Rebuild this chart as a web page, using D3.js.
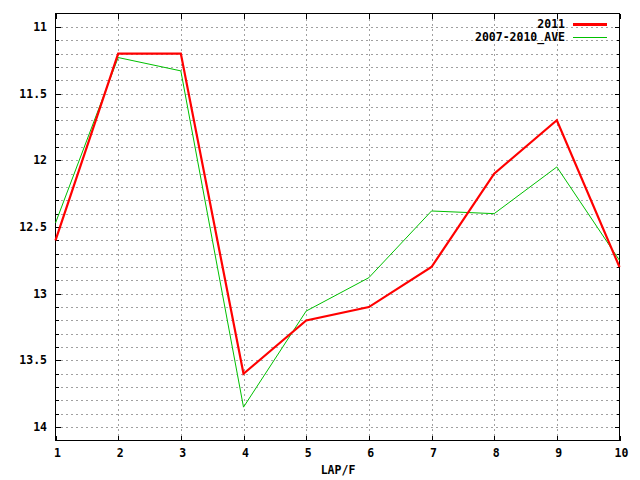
<!DOCTYPE html>
<html><head><meta charset="utf-8">
<script src="https://cdn.jsdelivr.net/npm/d3@7"></script>
<style>
body{margin:0;background:#fff;}
text{font-family:"DejaVu Sans Mono",monospace;font-weight:bold;font-size:11.5px;fill:#000;}
</style></head>
<body>
<svg id="c" width="640" height="480"></svg>
<script>
const laps = [1,2,3,4,5,6,7,8,9,10];
const series2011 = [12.6,11.2,11.2,13.6,13.2,13.1,12.8,12.1,11.7,12.8];
const seriesAve = [12.47,11.23,11.33,13.85,13.13,12.88,12.38,12.40,12.05,12.75];
const yTickLabels = [11,11.5,12,12.5,13,13.5,14];
const seriesNames = ["2011","2007-2010_AVE"];
const xLabel = "LAP/F";

const L=55.5, R=619.5, T=13.5, B=440.5;
const svg=d3.select("#c");
const x=d3.scaleLinear().domain([1,10]).range([L,R]);
const y=d3.scaleLinear().domain([10.9,14.1]).range([T,B]);

const minor=d3.range(109,142).map(v=>v/10);
const g=svg.append("g").attr("shape-rendering","crispEdges");
// horizontal grid
g.selectAll("line.hg").data(minor.filter(v=>v>10.9&&v<14.1)).enter().append("line")
 .attr("x1",L).attr("x2",R).attr("y1",d=>Math.round(y(d))+0.5).attr("y2",d=>Math.round(y(d))+0.5)
 .attr("stroke","#a0a0a0").attr("stroke-dasharray","2,3");
// vertical grid
g.selectAll("line.vg").data(laps.slice(1,-1)).enter().append("line")
 .attr("y1",T).attr("y2",B).attr("x1",d=>Math.round(x(d))+0.5).attr("x2",d=>Math.round(x(d))+0.5)
 .attr("stroke","#a0a0a0").attr("stroke-dasharray","2,3");

// ticks
const isMajor=v=>Math.abs(v*2-Math.round(v*2))<1e-6;
minor.filter(v=>v>10.9&&v<14.1).forEach(v=>{
  const yy=Math.round(y(v))+0.5, len=isMajor(v)?5:3;
  g.append("line").attr("x1",L).attr("x2",L+len).attr("y1",yy).attr("y2",yy).attr("stroke","#000");
  g.append("line").attr("x1",R).attr("x2",R-len).attr("y1",yy).attr("y2",yy).attr("stroke","#000");
});
laps.forEach(v=>{
  const xx=Math.round(x(v))+0.5;
  g.append("line").attr("x1",xx).attr("x2",xx).attr("y1",B).attr("y2",B-5).attr("stroke","#000");
  g.append("line").attr("x1",xx).attr("x2",xx).attr("y1",T).attr("y2",T+5).attr("stroke","#000");
});
// border
g.append("rect").attr("x",L).attr("y",T).attr("width",R-L).attr("height",B-T)
 .attr("fill","none").attr("stroke","#000");

// tick labels
const tg=svg.append("g");
tg.selectAll("text.yl").data(yTickLabels).enter().append("text")
 .attr("x",47).attr("y",d=>y(d)).attr("text-anchor","end").attr("dy","0.35em").text(d=>d);
tg.selectAll("text.xl").data(laps).enter().append("text")
 .attr("x",d=>x(d)+2).attr("y",453).attr("text-anchor","middle").attr("dy","0.35em").text(d=>d);
tg.append("text").attr("x",338).attr("y",470).attr("text-anchor","middle").attr("dy","0.35em").text(xLabel);

const line=d3.line().x((d,i)=>x(laps[i])).y(d=>y(d));
svg.append("path").datum(seriesAve).attr("d",line).attr("fill","none").attr("stroke","#00c000").attr("stroke-width",1);
svg.append("path").datum(series2011).attr("d",line).attr("fill","none").attr("stroke","#ff0000").attr("stroke-width",2.2);

// legend
const colors=["#ff0000","#00c000"], widths=[2.2,1];
seriesNames.forEach((n,i)=>{
  const yy=24+i*13;
  svg.append("text").attr("x",565).attr("y",yy).attr("text-anchor","end").attr("dy","0.35em").text(n);
  svg.append("line").attr("x1",573).attr("x2",607).attr("y1",yy+0.5).attr("y2",yy+0.5)
   .attr("stroke",colors[i]).attr("stroke-width",widths[i]).attr("shape-rendering","crispEdges");
});
</script>
</body></html>
